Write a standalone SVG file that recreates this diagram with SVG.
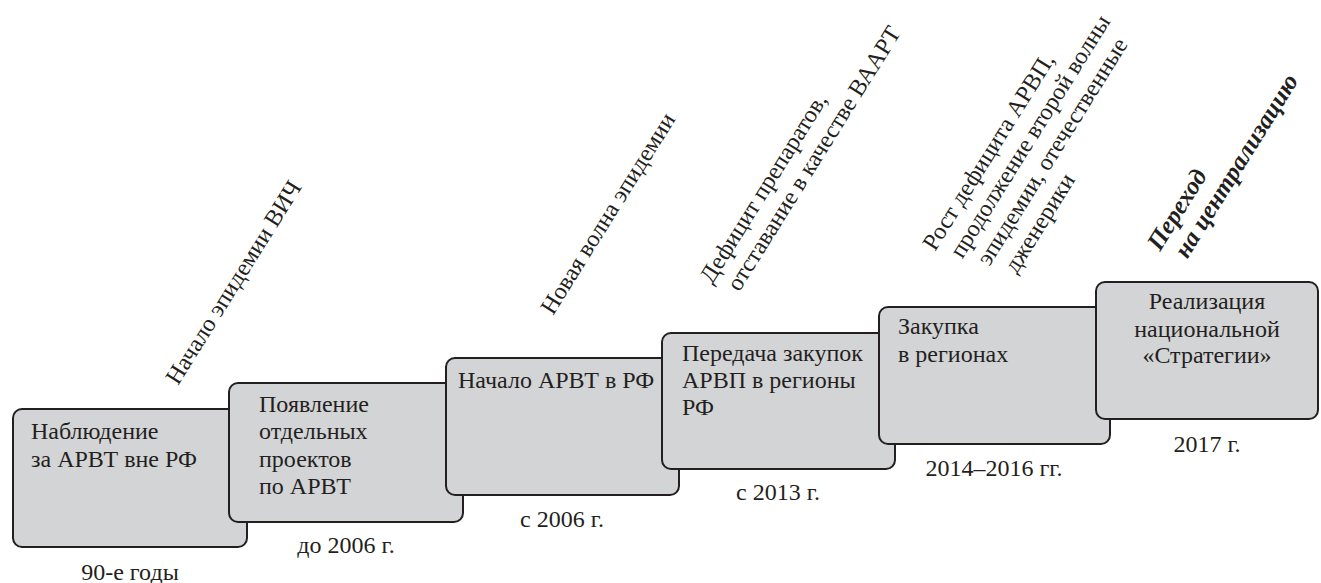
<svg xmlns="http://www.w3.org/2000/svg" width="1321" height="583" viewBox="0 0 1321 583">
<style>
.box{fill:#d3d4d6;stroke:#231f20;stroke-width:2}
.t{font-family:"Liberation Serif","Times New Roman",serif;font-size:24px;fill:#231f20}
.d{font-family:"Liberation Serif","Times New Roman",serif;font-size:24px;fill:#231f20;text-anchor:middle}
.r{font-family:"Liberation Serif","Times New Roman",serif;font-size:24px;fill:#231f20}
.b{font-family:"Liberation Serif","Times New Roman",serif;font-size:25px;font-weight:bold;font-style:italic;fill:#231f20}
</style>
<rect width="1321" height="583" fill="#ffffff"/>
<g id="connectors"></g>
<g id="node1">
<rect class="box" x="13" y="409" width="234" height="138" rx="9"/>
<text class="t" x="31" y="439">Наблюдение</text>
<text class="t" x="31" y="467">за АРВТ вне РФ</text>
<text class="d" x="130" y="580">90-е годы</text>
</g>
<g id="node2">
<rect class="box" x="229" y="383" width="234" height="139" rx="9"/>
<text class="t" x="259" y="412">Появление</text>
<text class="t" x="259" y="439">отдельных</text>
<text class="t" x="259" y="467">проектов</text>
<text class="t" x="259" y="494">по АРВТ</text>
<text class="d" x="346" y="553">до 2006 г.</text>
</g>
<g id="node3">
<rect class="box" x="446" y="358" width="233" height="137" rx="9"/>
<text class="t" x="458" y="388">Начало АРВТ в РФ</text>
<text class="d" x="562" y="527">с 2006 г.</text>
</g>
<g id="node4">
<rect class="box" x="662" y="333" width="233" height="136" rx="9"/>
<text class="t" x="682" y="361">Передача закупок</text>
<text class="t" x="682" y="388">АРВП в регионы</text>
<text class="t" x="682" y="415">РФ</text>
<text class="d" x="778" y="500">с 2013 г.</text>
</g>
<g id="node5">
<rect class="box" x="879" y="307" width="231" height="137" rx="9"/>
<text class="t" x="898" y="334">Закупка</text>
<text class="t" x="898" y="362">в регионах</text>
<text class="d" x="994" y="476">2014–2016 гг.</text>
</g>
<g id="node6">
<rect class="box" x="1096" y="282" width="222" height="137" rx="9"/>
<text class="t" x="1207" y="309" text-anchor="middle">Реализация</text>
<text class="t" x="1207" y="337" text-anchor="middle">национальной</text>
<text class="t" x="1207" y="363" text-anchor="middle">«Стратегии»</text>
<text class="d" x="1207" y="452">2017 г.</text>
</g>
<g id="label1" transform="translate(178,386) rotate(-58)">
<text class="r" x="0" y="0">Начало эпидемии ВИЧ</text>
</g>
<g id="label2" transform="translate(553,316) rotate(-58)">
<text class="r" x="0" y="0">Новая волна эпидемии</text>
</g>
<g id="label3" transform="translate(712,285) rotate(-58)">
<text class="r" x="0" y="0">Дефицит препаратов,</text>
<text class="r" x="8" y="27">отставание в качестве ВААРТ</text>
</g>
<g id="label4" transform="translate(935,252) rotate(-58)">
<text class="r" x="0" y="0">Рост дефицита АРВП,</text>
<text class="r" x="8" y="27">продолжение второй волны</text>
<text class="r" x="16" y="54">эпидемии, отечественные</text>
<text class="r" x="24" y="81">дженерики</text>
</g>
<g id="label5" transform="translate(1160,252) rotate(-58)">
<text class="b" x="0" y="0">Переход</text>
<text class="b" x="8" y="27">на централизацию</text>
</g>
</svg>
